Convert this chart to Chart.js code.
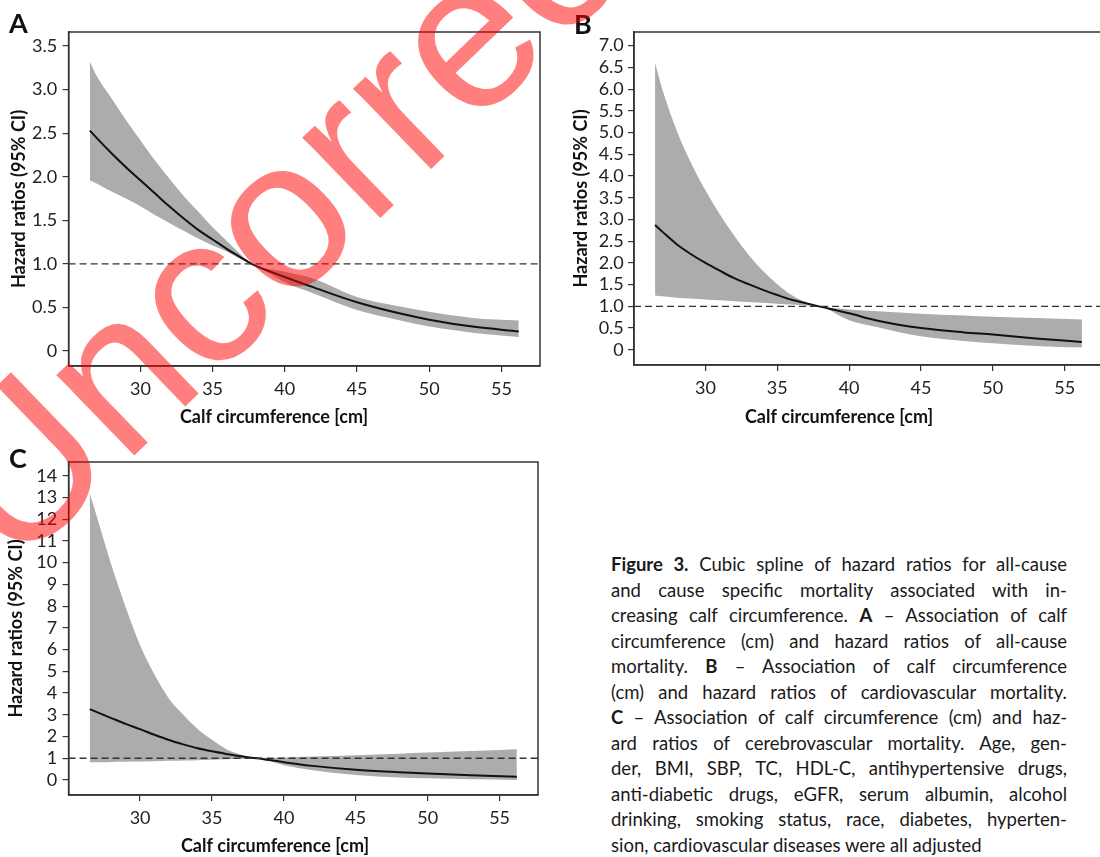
<!DOCTYPE html>
<html>
<head>
<meta charset="utf-8">
<script src="https://cdn.jsdelivr.net/npm/chart.js@4.4.1/dist/chart.umd.min.js"></script>
<style>
html, body { margin: 0; padding: 0; background: #fff; width: 1100px; height: 857px; overflow: hidden; }
canvas { position: absolute; }
.tag { position: absolute; font: bold 27px Lato, sans-serif; color: #111; line-height: 1; }
#caption { position: absolute; left: 611px; top: 552px; width: 456px; font: 18.5px/25.5px Lato, sans-serif; color: #1a1a1a; }
#caption div { text-align: justify; text-align-last: justify; }
#caption div.last { text-align-last: left; }
#wm { position: absolute; left: 14px; top: 392.5px; font: 212px/1 "Liberation Sans", Arial, sans-serif; color: rgba(255, 0, 0, 0.5);
      white-space: nowrap; transform-origin: 0 179.5px; transform: rotate(-44deg); pointer-events: none; z-index: 10; }
</style>
</head>
<body>
<canvas id="chartA" width="560" height="430" style="left:0;top:0;width:560px;height:430px"></canvas>
<canvas id="chartB" width="550" height="430" style="left:560px;top:0;width:550px;height:430px"></canvas>
<canvas id="chartC" width="560" height="427" style="left:0;top:430px;width:560px;height:427px"></canvas>
<div class="tag" style="left:9px;top:9px">A</div>
<div class="tag" style="left:574px;top:10px">B</div>
<div class="tag" style="left:9px;top:444px">C</div>
<div id="caption">
<div><b>Figure 3.</b> Cubic spline of hazard ratios for all-cause</div>
<div>and cause specific mortality associated with in-</div>
<div>creasing calf circumference. <b>A</b> – Association of calf</div>
<div>circumference (cm) and hazard ratios of all-cause</div>
<div>mortality. <b>B</b> – Association of calf circumference</div>
<div>(cm) and hazard ratios of cardiovascular mortality.</div>
<div><b>C</b> – Association of calf circumference (cm) and haz-</div>
<div>ard ratios of cerebrovascular mortality. Age, gen-</div>
<div>der, BMI, SBP, TC, HDL-C, antihypertensive drugs,</div>
<div>anti-diabetic drugs, eGFR, serum albumin, alcohol</div>
<div>drinking, smoking status, race, diabetes, hyperten-</div>
<div class="last">sion, cardiovascular diseases were all adjusted</div>
</div>
<div id="wm">Uncorrected proof</div>
<script>
// calf circumference (cm) sample points
var calfA = [26.5, 27, 28, 29, 30, 31, 32, 33, 34, 35, 36, 37, 37.7, 40, 42, 45, 48, 50, 53, 56.2]
var calfB = [26.5, 27, 28, 29, 30, 31, 32, 33, 34, 35, 36, 37, 37.9, 40, 42, 45, 48, 50, 53, 56.2]
var calfC = [26.5, 27, 28, 29, 30, 31, 32, 33, 34, 35, 36, 37, 38.1, 40, 42, 45, 48, 50, 53, 56.2]

// A - all-cause mortality
var hrA    = [2.53, 2.44, 2.27, 2.11, 1.96, 1.81, 1.66, 1.52, 1.39, 1.28, 1.17, 1.07, 1.00, 0.85, 0.73, 0.56, 0.43, 0.36, 0.28, 0.225]
var upperA = [3.32, 3.15, 2.90, 2.65, 2.42, 2.19, 1.98, 1.78, 1.60, 1.42, 1.26, 1.10, 1.00, 0.91, 0.83, 0.62, 0.51, 0.45, 0.38, 0.35]
var lowerA = [1.96, 1.92, 1.83, 1.75, 1.66, 1.56, 1.47, 1.38, 1.29, 1.21, 1.14, 1.05, 1.00, 0.79, 0.66, 0.47, 0.35, 0.28, 0.21, 0.16]

// B - cardiovascular mortality
var hrB    = [2.87, 2.72, 2.43, 2.20, 2.00, 1.82, 1.65, 1.51, 1.38, 1.26, 1.15, 1.07, 1.00, 0.84, 0.67, 0.50, 0.40, 0.35, 0.26, 0.18]
var upperB = [6.60, 6.00, 5.05, 4.30, 3.67, 3.12, 2.63, 2.19, 1.82, 1.51, 1.26, 1.09, 1.00, 0.93, 0.89, 0.83, 0.79, 0.76, 0.73, 0.70]
var lowerB = [1.25, 1.23, 1.20, 1.18, 1.16, 1.14, 1.12, 1.10, 1.08, 1.06, 1.04, 1.02, 1.00, 0.68, 0.52, 0.31, 0.20, 0.15, 0.09, 0.05]

// C - cerebrovascular mortality
var hrC    = [3.26, 3.12, 2.85, 2.58, 2.34, 2.08, 1.84, 1.64, 1.46, 1.32, 1.20, 1.09, 1.00, 0.82, 0.65, 0.47, 0.36, 0.30, 0.22, 0.15]
var upperC = [13.2, 12.1, 9.9, 7.95, 6.2, 4.85, 3.75, 3.0, 2.35, 1.85, 1.42, 1.17, 1.00, 1.04, 1.08, 1.14, 1.21, 1.26, 1.33, 1.42]
var lowerC = [0.82, 0.82, 0.83, 0.84, 0.85, 0.865, 0.88, 0.895, 0.91, 0.93, 0.95, 0.975, 1.00, 0.68, 0.45, 0.23, 0.12, 0.08, 0.03, 0.00]

var calfTicks = [30, 35, 40, 45, 50, 55]
var ticksA = [0, 0.5, 1, 1.5, 2, 2.5, 3, 3.5]
var ticksB = [0, 0.5, 1, 1.5, 2, 2.5, 3, 3.5, 4, 4.5, 5, 5.5, 6, 6.5, 7]
var ticksC = [0, 1, 2, 3, 4, 5, 6, 7, 8, 9, 10, 11, 12, 13, 14]
var refHR = 1

var bandColor = '#acacac'
var ink = '#222'

function pts(xs, ys) {
    return xs.map((x, i) => ({x: x, y: ys[i]}))
}

var framePlugin = {
    id: 'frame',
    afterDatasetsDraw(chart) {
        var ctx = chart.ctx, a = chart.chartArea
        var yr = chart.scales.y.getPixelForValue(refHR)
        ctx.save()
        ctx.setLineDash([7, 4])
        ctx.strokeStyle = '#333'
        ctx.lineWidth = 1.3
        ctx.beginPath()
        ctx.moveTo(a.left, yr)
        ctx.lineTo(a.right, yr)
        ctx.stroke()
        ctx.restore()
    },
    afterDraw(chart) {
        var ctx = chart.ctx, a = chart.chartArea
        ctx.save()
        ctx.strokeStyle = '#333'
        ctx.lineWidth = 1.5
        ctx.strokeRect(a.left, a.top, a.right - a.left, a.bottom - a.top)
        ctx.restore()
    }
}

function drawPanel(id, calf, hr, upper, lower, yTicks, yMin, yMax, fmt, geo) {
    var ctx = document.getElementById(id).getContext('2d')
    return new Chart(ctx, {
        type: 'line',
        data: {
            datasets: [
                // hazard ratio line first so it is painted on top of the band
                { data: pts(calf, hr), borderColor: '#111', borderWidth: 2, pointRadius: 0, fill: false, cubicInterpolationMode: 'monotone' },
                { data: pts(calf, upper), borderWidth: 0, pointRadius: 0, fill: '+1', backgroundColor: bandColor, cubicInterpolationMode: 'monotone' },
                { data: pts(calf, lower), borderWidth: 0, pointRadius: 0, fill: false, cubicInterpolationMode: 'monotone' }
            ]
        },
        options: {
            responsive: false,
            animation: false,
            layout: { padding: { left: geo.pl, top: 32, right: geo.pr, bottom: geo.pb } },
            plugins: {
                legend: { display: false },
                tooltip: { enabled: false },
                title: { display: true, position: 'bottom', text: 'Calf circumference [cm]', color: '#111',
                         font: { family: 'Lato', size: 18, weight: 'bold', lineHeight: 1.2 }, padding: 0 }
            },
            scales: {
                x: {
                    type: 'linear', min: 25.03, max: 57.67,
                    afterBuildTicks: s => { s.ticks = calfTicks.map(v => ({value: v})) },
                    afterFit: s => { s.height = geo.xh },
                    ticks: { font: { family: 'Lato', size: 18 }, color: ink, padding: 6, maxRotation: 0, autoSkip: false },
                    grid: { drawOnChartArea: false, drawTicks: true, tickLength: 6, color: '#333', lineWidth: 1.2 },
                    border: { display: true, color: '#333', width: 1.5 }
                },
                y: {
                    min: yMin, max: yMax,
                    afterBuildTicks: s => { s.ticks = yTicks.map(v => ({value: v})) },
                    afterFit: s => { s.width = geo.yw },
                    ticks: { font: { family: 'Lato', size: 18 }, color: ink, padding: geo.ypad, callback: fmt, autoSkip: false },
                    grid: { drawOnChartArea: false, drawTicks: true, tickLength: 6, color: '#333', lineWidth: 1.2 },
                    border: { display: true, color: '#333', width: 1.5 },
                    title: { display: true, text: 'Hazard ratios (95% CI)', color: '#111',
                             font: { family: 'Lato', size: 18, weight: 'bold', lineHeight: 1.2 }, padding: { top: geo.ytp, bottom: 0 } }
                }
            }
        },
        plugins: [framePlugin]
    })
}

var oneDecimal = v => v === 0 ? '0' : v.toFixed(1)
var integer = v => String(v)

window.onload = function() {
    drawPanel('chartA', calfA, hrA, upperA, lowerA, ticksA, -0.172, 3.661, oneDecimal,
        { pl: 8, pr: 20, pb: 2.2, xh: 40.2, yw: 60.6, ypad: 5.5, ytp: 0 })
    drawPanel('chartB', calfB, hrB, upperB, lowerB, ticksB, -0.35, 7.315, oneDecimal,
        { pl: 15, pr: 7, pb: 2.5, xh: 40.9, yw: 59, ypad: 4.2, ytp: -4.8 })
    drawPanel('chartC', calfC, hrC, upperC, lowerC, ticksC, -0.69, 14.63, integer,
        { pl: 12, pr: 22, pb: 0, xh: 40.4, yw: 56.6, ypad: 5.5, ytp: -6.2 })
}
</script>
</body>
</html>
